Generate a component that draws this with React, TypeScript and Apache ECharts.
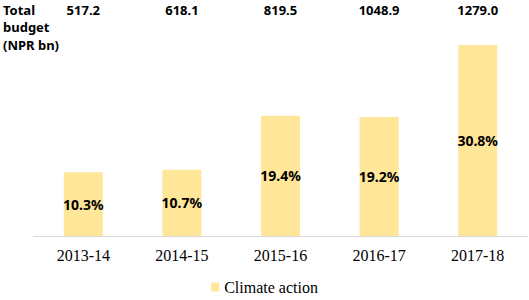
import React, { useEffect, useRef } from "react";
import * as echarts from "echarts";

const categories = ["2013-14", "2014-15", "2015-16", "2016-17", "2017-18"];
const climateShare = [10.3, 10.7, 19.4, 19.2, 30.8];
const totalBudget = ["517.2", "618.1", "819.5", "1048.9", "1279.0"];
const seriesName = "Climate action";
const budgetTitle = "Total\nbudget\n(NPR bn)";

export default function App() {
  const ref = useRef<HTMLDivElement>(null);
  useEffect(() => {
    if (!ref.current) return;
    const chart = echarts.init(ref.current, null, { renderer: "svg" });
    chart.setOption({
      animation: false,
      backgroundColor: "#ffffff",
      grid: { left: 34, right: 2, top: 19, bottom: 64 },
      legend: {
        bottom: 0,
        left: "center",
        itemWidth: 8,
        itemHeight: 9,
        itemGap: 10,
        icon: "rect",
        textStyle: { fontFamily: "Liberation Serif", fontSize: 16, color: "#000" },
        data: [seriesName],
      },
      xAxis: [
        {
          type: "category",
          data: categories,
          axisLine: { lineStyle: { color: "#D9D9D9", width: 1 } },
          axisTick: { show: false },
          axisLabel: {
            margin: 11,
            fontFamily: "Liberation Serif",
            fontSize: 16,
            color: "#000",
          },
        },
        {
          type: "category",
          position: "top",
          data: totalBudget,
          axisLine: { show: false },
          axisTick: { show: false },
          axisLabel: {
            margin: 3,
            interval: 0,
            hideOverlap: false,
            fontFamily: "Noto Sans",
            fontWeight: "bold",
            fontSize: 13,
            color: "#000",
          },
        },
      ],
      yAxis: { type: "value", min: 0, max: 35, show: false, splitLine: { show: false } },
      series: [
        {
          name: seriesName,
          type: "bar",
          data: climateShare,
          barWidth: 39,
          itemStyle: { color: "#FFE699" },
          label: {
            show: true,
            position: "inside",
            formatter: (p: any) => `${p.value.toFixed(1)}%`,
            fontFamily: "Noto Sans",
            fontWeight: "bold",
            fontSize: 14,
            color: "#000",
          },
        },
      ],
      graphic: [
        {
          type: "text",
          left: 3,
          top: 1,
          style: {
            text: budgetTitle,
            fontFamily: "Noto Sans",
            fontWeight: "bold",
            fontSize: 13,
            lineHeight: 17.5,
            fill: "#000",
          },
        },
      ],
    });
    return () => chart.dispose();
  }, []);
  return (
    <div
      ref={ref}
      style={{ position: "fixed", left: 0, top: 0, width: 529, height: 300 }}
    />
  );
}
